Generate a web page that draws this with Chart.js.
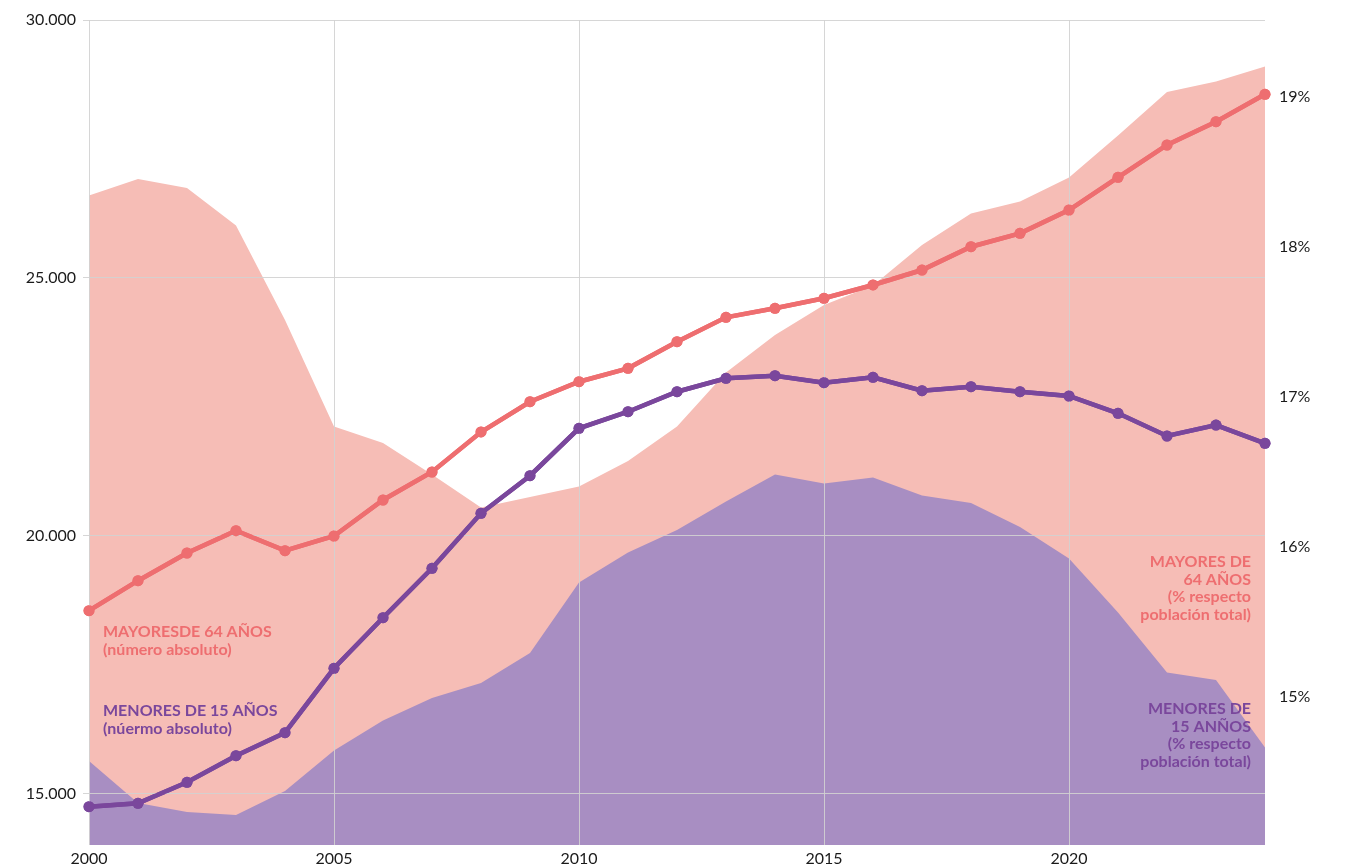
<!DOCTYPE html>
<html>
<head>
<meta charset="utf-8">
<script src="https://cdn.jsdelivr.net/npm/chart.js@4"></script>
<style>
    body { margin: 0; background: #fff; }
    #wrap { width: 1345px; height: 868px; position: relative; }
</style>
</head>
<body>
<div id="wrap"><canvas id="poblacionChart"></canvas></div>
<script>
const years = [2000, 2001, 2002, 2003, 2004, 2005, 2006, 2007, 2008, 2009, 2010, 2011, 2012,
               2013, 2014, 2015, 2016, 2017, 2018, 2019, 2020, 2021, 2022, 2023, 2024];

// absolute numbers (left axis)
const mayores64Abs = [18544, 19126, 19663, 20096, 19708, 19993, 20691, 21234, 22010, 22597, 22985, 23245, 23761,
                      24234, 24409, 24603, 24861, 25151, 25603, 25863, 26315, 26949, 27576, 28028, 28559];
const menores15Abs = [14743, 14809, 15216, 15732, 16178, 17427, 18408, 19366, 20433, 21162, 22081, 22403, 22791,
                      23051, 23102, 22966, 23071, 22811, 22888, 22791, 22708, 22372, 21932, 22145, 21790];

// % of total population (right axis)
const mayores64Pct = [18.33, 18.44, 18.38, 18.13, 17.5, 16.79, 16.68, 16.47, 16.25, 16.32, 16.39, 16.56, 16.79,
                      17.15, 17.4, 17.6, 17.73, 18.0, 18.21, 18.29, 18.45, 18.73, 19.02, 19.09, 19.19];
const menores15Pct = [14.56, 14.28, 14.22, 14.20, 14.36, 14.63, 14.83, 14.98, 15.08, 15.28, 15.75, 15.95, 16.1,
                      16.29, 16.47, 16.41, 16.45, 16.33, 16.28, 16.12, 15.91, 15.55, 15.15, 15.1, 14.65];

const yearTicks = [2000, 2005, 2010, 2015, 2020];
const leftTicks = [15000, 20000, 25000, 30000];
const rightTicks = [15, 16, 17, 18, 19];

const PINK_LINE = '#ee6e70';
const PURPLE_LINE = '#7a479c';
const PINK_AREA = '#f6bdb6';
const PURPLE_AREA = '#a88ec2';
const GRID = 'rgba(210,210,210,0.9)';
const FONT = 'Lato';

const toPoints = arr => years.map((y, i) => ({ x: y, y: arr[i] }));
const fmtMiles = v => String(v).replace(/\B(?=(\d{3})+(?!\d))/g, '.');

// text labels next to the series
const labelsPlugin = {
    id: 'seriesLabels',
    afterDraw(chart) {
        const { ctx, chartArea } = chart;
        const lh = 17.5;
        ctx.save();
        ctx.font = 'bold 16px ' + FONT;
        ctx.textBaseline = 'middle';

        ctx.textAlign = 'left';
        const lx = chartArea.left + 14;
        ctx.fillStyle = PINK_LINE;
        ['MAYORESDE 64 AÑOS', '(número absoluto)'].forEach((t, i) => ctx.fillText(t, lx, 632 + i * lh));
        ctx.fillStyle = PURPLE_LINE;
        ['MENORES DE 15 AÑOS', '(núermo absoluto)'].forEach((t, i) => ctx.fillText(t, lx, 711 + i * lh));

        ctx.textAlign = 'right';
        const rx = chartArea.right - 14;
        ctx.fillStyle = PINK_LINE;
        ['MAYORES DE', '64 AÑOS', '(% respecto', 'población total)'].forEach((t, i) => ctx.fillText(t, rx, 562 + i * lh));
        ctx.fillStyle = PURPLE_LINE;
        ['MENORES DE', '15 ANÑOS', '(% respecto', 'población total)'].forEach((t, i) => ctx.fillText(t, rx, 709 + i * lh));
        ctx.restore();
    }
};

// grid sits above the areas, so put the two lines back on top of it
const linesOnTop = {
    id: 'linesOnTop',
    afterDraw(chart) {
        [0, 1].forEach(i => {
            const meta = chart.getDatasetMeta(i);
            if (meta.visible) meta.controller.draw();
        });
    }
};

const ctx = document.getElementById('poblacionChart').getContext('2d');
new Chart(ctx, {
    type: 'line',
    data: {
        datasets: [
            {
                label: 'Mayores de 64 años (número absoluto)',
                data: toPoints(mayores64Abs),
                yAxisID: 'y',
                borderColor: PINK_LINE,
                backgroundColor: PINK_LINE,
                borderWidth: 4.5,
                pointRadius: 5.5,
                pointBorderWidth: 0,
                fill: false,
                clip: false,
                order: 0
            },
            {
                label: 'Menores de 15 años (número absoluto)',
                data: toPoints(menores15Abs),
                yAxisID: 'y',
                borderColor: PURPLE_LINE,
                backgroundColor: PURPLE_LINE,
                borderWidth: 4.5,
                pointRadius: 5.5,
                pointBorderWidth: 0,
                fill: false,
                clip: false,
                order: 0
            },
            {
                label: 'Menores de 15 años (%)',
                data: toPoints(menores15Pct),
                yAxisID: 'y2',
                borderWidth: 0,
                pointRadius: 0,
                backgroundColor: PURPLE_AREA,
                fill: 'start',
                order: 1
            },
            {
                label: 'Mayores de 64 años (%)',
                data: toPoints(mayores64Pct),
                yAxisID: 'y2',
                borderWidth: 0,
                pointRadius: 0,
                backgroundColor: PINK_AREA,
                fill: 'start',
                order: 2
            }
        ]
    },
    options: {
        responsive: true,
        maintainAspectRatio: false,
        animation: false,
        layout: { padding: { top: 20, left: 0, right: 0, bottom: 0 } },
        plugins: {
            legend: { display: false },
            tooltip: { enabled: false }
        },
        scales: {
            x: {
                type: 'linear',
                min: 2000,
                max: 2024,
                afterBuildTicks: scale => { scale.ticks = yearTicks.map(v => ({ value: v })); },
                afterFit: scale => { scale.height = 23; },
                grid: { color: GRID, drawTicks: false, z: 1 },
                border: { display: false },
                ticks: {
                    padding: 4,
                    maxRotation: 0,
                    color: '#1a1a1a',
                    font: { family: FONT, size: 16 },
                    callback: v => String(v)
                }
            },
            y: {
                position: 'left',
                min: 14000,
                max: 30000,
                afterBuildTicks: scale => { scale.ticks = leftTicks.map(v => ({ value: v })); },
                afterFit: scale => { scale.width = 89; },
                grid: { color: GRID, tickLength: 6, z: 1 },
                border: { display: false },
                ticks: {
                    padding: 7,
                    color: '#1a1a1a',
                    font: { family: FONT, size: 16 },
                    callback: v => fmtMiles(v)
                }
            },
            y2: {
                position: 'right',
                min: 14,
                max: 19.5,
                afterBuildTicks: scale => { scale.ticks = rightTicks.map(v => ({ value: v })); },
                afterFit: scale => { scale.width = 80; },
                grid: { drawOnChartArea: false, drawTicks: true, tickLength: 10, tickColor: 'rgba(0,0,0,0)' },
                border: { display: false },
                ticks: {
                    padding: 4,
                    labelOffset: 2,
                    color: '#1a1a1a',
                    font: { family: FONT, size: 16 },
                    callback: v => v + '%'
                }
            }
        }
    },
    plugins: [labelsPlugin, linesOnTop]
});
</script>
</body>
</html>
